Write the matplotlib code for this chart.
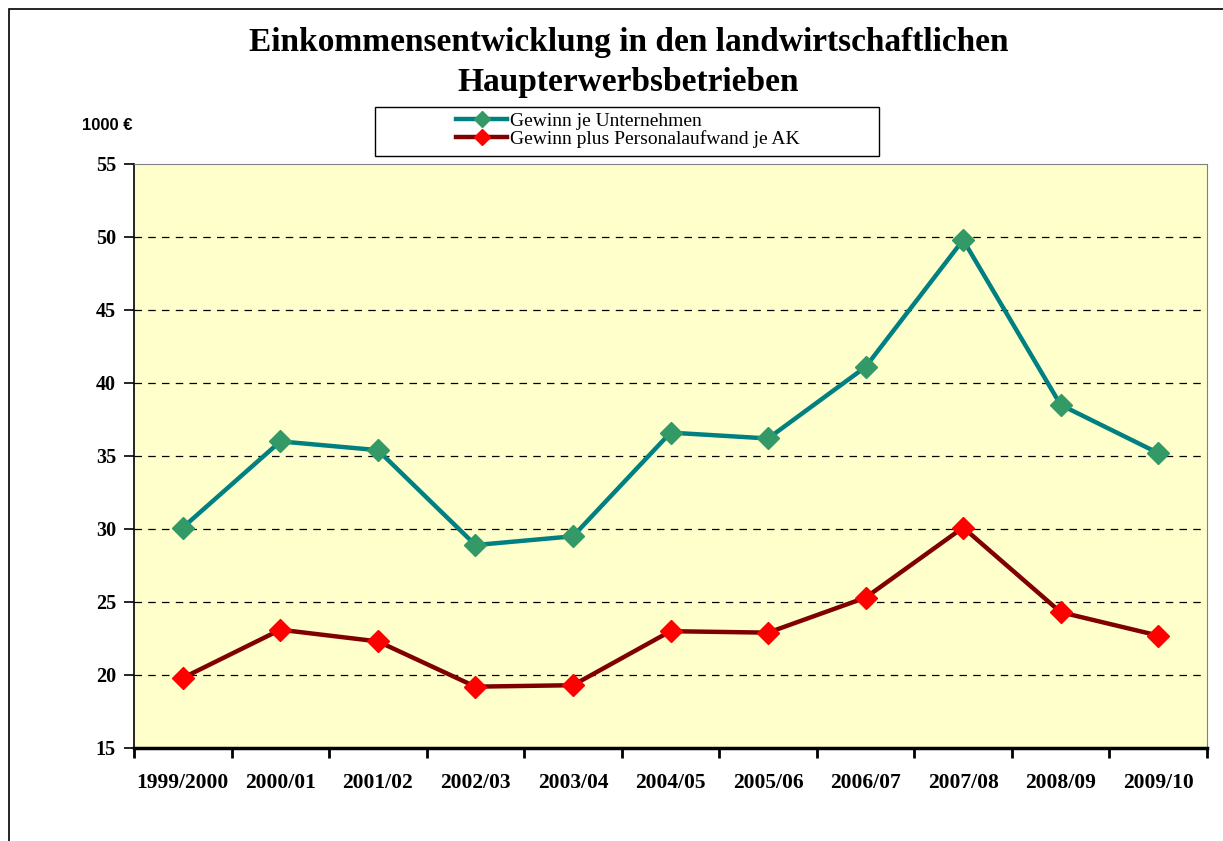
import matplotlib.pyplot as plt
from matplotlib.patches import Rectangle

# data (1000 €)
years = ["1999/2000", "2000/01", "2001/02", "2002/03", "2003/04", "2004/05",
         "2005/06", "2006/07", "2007/08", "2008/09", "2009/10"]
gewinn = [30.1, 36.0, 35.4, 28.9, 29.5, 36.6, 36.2, 41.1, 49.8, 38.5, 35.2]
gewinn_plus = [19.8, 23.1, 22.3, 19.2, 19.3, 23.0, 22.9, 25.3, 30.1, 24.3, 22.7]
yticks = [15, 20, 25, 30, 35, 40, 45, 50, 55]

serif = "Liberation Serif"

fig = plt.figure(figsize=(12.23, 8.41), dpi=100)
ax = fig.add_axes([0.1096, 0.1106, 0.8773, 0.6944])
ax.set_facecolor("#FFFFCC")

x = list(range(len(years)))
ax.plot(x, gewinn, color="#008080", lw=3.2, marker="D", markersize=11,
        markerfacecolor="#339966", markeredgecolor="#339966",
        label="Gewinn je Unternehmen", zorder=3)
ax.plot(x, gewinn_plus, color="#800000", lw=3.2, marker="D", markersize=11,
        markerfacecolor="#FF0000", markeredgecolor="#FF0000",
        label="Gewinn plus Personalaufwand je AK", zorder=3)

ax.set_xlim(-0.5, len(years) - 0.5)
ax.set_ylim(15, 55)
ax.set_yticks(yticks)
ax.set_yticklabels([str(v) for v in yticks], fontfamily=serif,
                   fontweight="bold", fontsize=14.5)
ax.set_xticks(x)
ax.set_xticklabels(years, fontfamily=serif, fontweight="bold", fontsize=15.5)
ax.set_xticks([i - 0.5 for i in range(len(years) + 1)], minor=True)
ax.tick_params(axis="x", which="major", length=0, pad=18)
ax.tick_params(axis="x", which="minor", length=7, width=2, direction="out")
ax.tick_params(axis="y", length=7, width=1.2, direction="out", pad=6)

for v in yticks[1:-1]:
    ax.axhline(v, color="black", lw=0.9, ls=(0, (6, 5)), zorder=1)

ax.spines["top"].set_color("#808080")
ax.spines["right"].set_color("#808080")
ax.spines["left"].set_color("black")
ax.spines["left"].set_linewidth(1.2)
ax.spines["bottom"].set_color("black")
ax.spines["bottom"].set_linewidth(2.5)

# outer chart frame (cut off at right and bottom)
fig.patches.append(Rectangle((9 / 1223, -0.1), 1.2, 1 - 9 / 841 + 0.1,
                             transform=fig.transFigure, fill=False,
                             edgecolor="black", lw=1.2))

fig.text(0.514, 1 - 42 / 841, "Einkommensentwicklung in den landwirtschaftlichen",
         ha="center", va="center", fontfamily=serif, fontweight="bold", fontsize=24)
fig.text(0.514, 1 - 83 / 841, "Haupterwerbsbetrieben",
         ha="center", va="center", fontfamily=serif, fontweight="bold", fontsize=24)
fig.text(107 / 1223, 1 - 125 / 841, "1000 €", ha="center", va="center",
         fontfamily="Liberation Sans", fontweight="bold", fontsize=12)

# legend box
fig.patches.append(Rectangle((375 / 1223, 1 - 156 / 841), 504 / 1223, 49 / 841,
                             transform=fig.transFigure, fill=True,
                             facecolor="white", edgecolor="black", lw=1))
fig.legend(loc="center", bbox_to_anchor=(628 / 1223, 1 - 130 / 841),
           frameon=False, prop={"family": serif, "size": 14},
           handlelength=2.6, markerscale=0.75, labelspacing=0.0,
           handletextpad=0.15, borderpad=0)

fig.savefig("out.png", dpi=100)
